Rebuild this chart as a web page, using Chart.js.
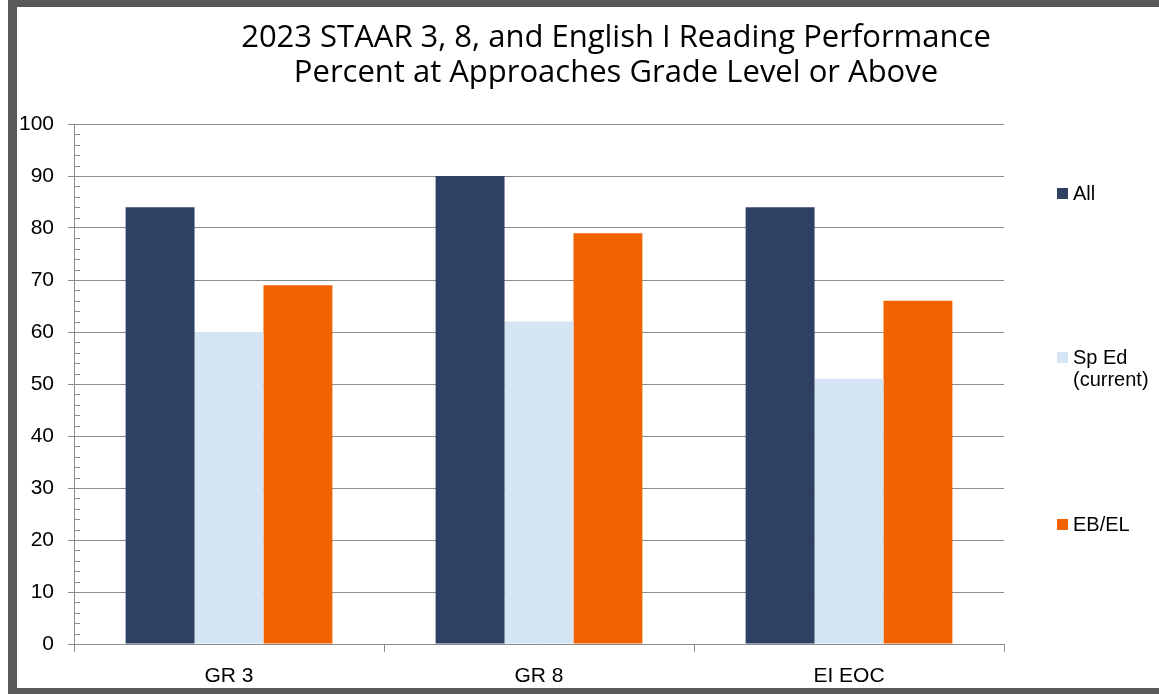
<!DOCTYPE html>
<html>
<head>
<meta charset="utf-8">
<script src="https://cdn.jsdelivr.net/npm/chart.js@4.4.0/dist/chart.umd.min.js"></script>
<style>
  html, body { margin: 0; padding: 0; background: #fff; }
  body { width: 1159px; height: 694px; position: relative; overflow: hidden; font-family: "Liberation Sans", Arial, sans-serif; }
  .frame { position: absolute; left: 8px; top: 0; width: 1200px; height: 694px; box-sizing: border-box;
           border-top: 7px solid #595959; border-left: 9px solid #595959; border-bottom: 6px solid #595959; }
  #wrap { position: absolute; left: 17px; top: 7px; width: 1142px; height: 681px; }
  .title { position: absolute; left: 166px; width: 900px; top: 18px; text-align: center;
           font-family: "Open Sans", Lato, sans-serif; font-size: 31px; line-height: 35px; color: #000; }
  .legend-item { position: absolute; left: 1057px; font-size: 20px; line-height: 22px; color: #000; }
  .legend-item .box { position: absolute; left: 0; top: 6px; width: 11px; height: 11px; }
  .legend-item .txt { margin-left: 16px; white-space: nowrap; }
</style>
</head>
<body>
<div class="frame"></div>
<div id="wrap"><canvas id="chart"></canvas></div>
<div class="title">2023 STAAR 3, 8, and English I Reading Performance<br>Percent at Approaches Grade Level or Above</div>
<div id="legend"></div>

<script>
/* -------------------- DATA -------------------- */
const categories = ["GR 3", "GR 8", "EI EOC"];
const seriesNames = [["All"], ["Sp Ed", "(current)"], ["EB/EL"]];
const allValues = [84, 90, 84];
const spEdValues = [60, 62, 51];
const ebElValues = [69, 79, 66];
const seriesColors = ["#2e4064", "#d6e5f3", "#f16300"];
const yMin = 0, yMax = 100, yStep = 10, minorStep = 2;

/* -------------------- LEGEND -------------------- */
const legendTops = [182, 346, 513];
const legend = document.getElementById("legend");
seriesNames.forEach((lines, i) => {
  const item = document.createElement("div");
  item.className = "legend-item";
  item.style.top = legendTops[i] + "px";
  item.innerHTML = `<span class="box" style="background:${seriesColors[i]}"></span><div class="txt">${lines.join("<br>")}</div>`;
  legend.appendChild(item);
});

/* -------------------- MINOR TICKS -------------------- */
const minorTicks = {
  id: "minorTicks",
  afterDatasetsDraw(chart) {
    const y = chart.scales.y;
    const ctx = chart.ctx;
    const x0 = chart.chartArea.left;
    ctx.save();
    ctx.strokeStyle = "#8c8c8c";
    ctx.lineWidth = 1;
    for (let v = yMin; v < yMax; v += minorStep) {
      if (v % yStep === 0) continue;
      const py = Math.round(y.getPixelForValue(v)) + 0.5;
      ctx.beginPath();
      ctx.moveTo(x0, py);
      ctx.lineTo(x0 + 6, py);
      ctx.stroke();
    }
    ctx.restore();
  }
};

/* -------------------- CHART -------------------- */
const font = { family: "'Liberation Sans', Arial, sans-serif", size: 21 };
const dataValues = [allValues, spEdValues, ebElValues];

new Chart(document.getElementById("chart"), {
  type: "bar",
  data: {
    labels: categories,
    datasets: dataValues.map((vals, i) => ({
      label: seriesNames[i].join(" "),
      data: vals,
      backgroundColor: seriesColors[i],
      borderWidth: 0,
      barPercentage: 1,
      categoryPercentage: 0.667
    }))
  },
  options: {
    responsive: true,
    maintainAspectRatio: false,
    animation: false,
    layout: { padding: { top: 117, right: 155, bottom: 0, left: 0 } },
    plugins: { legend: { display: false }, tooltip: { enabled: false } },
    scales: {
      x: {
        grid: { drawOnChartArea: false, tickLength: 8, color: "#8c8c8c", offset: true },
        border: { color: "#8c8c8c" },
        ticks: { color: "#000", font: font, padding: 12 },
        afterFit(s) { s.height = 44; }
      },
      y: {
        min: yMin,
        max: yMax,
        ticks: { stepSize: yStep, color: "#000", font: font, padding: 14 },
        grid: { color: "#8c8c8c", tickLength: 6 },
        border: { color: "#8c8c8c" },
        afterFit(s) { s.width = 57; }
      }
    }
  },
  plugins: [minorTicks]
});
</script>
</body>
</html>
